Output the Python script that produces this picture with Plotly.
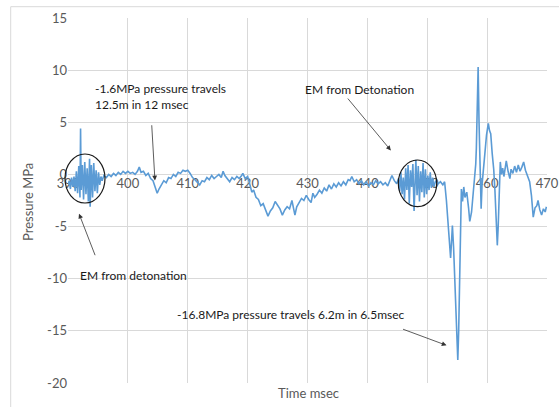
import plotly.graph_objects as go

time_ms = [
    390.0, 390.2, 390.4, 390.6, 390.8, 391.0, 391.2, 391.4, 391.6, 391.8,
    392.0, 392.1, 392.2, 392.4, 392.6, 392.8, 393.0, 393.2, 393.4, 393.6,
    393.7, 393.9, 394.1, 394.3, 394.5, 394.7, 394.9, 395.1, 395.3, 395.5,
    395.7, 396.0, 396.4, 396.8, 397.2, 397.6, 398.0, 398.4, 398.8, 399.2,
    399.6, 400.0, 400.4, 400.8, 401.2, 401.6, 401.9, 402.2, 402.6, 403.0,
    403.4, 403.8, 404.2, 404.6, 404.9, 405.2, 405.6, 406.0, 406.4, 406.8,
    407.2, 407.6, 408.0, 408.4, 408.8, 409.2, 409.6, 410.0, 410.4, 410.8,
    411.2, 411.6, 412.0, 412.4, 412.8, 413.2, 413.6, 414.0, 414.4, 414.8,
    415.2, 415.6, 415.9, 416.2, 416.6, 417.0, 417.4, 417.8, 418.2, 418.6,
    419.0, 419.2, 419.6, 420.0, 420.3, 420.7, 421.0, 421.4, 421.8, 422.2,
    422.6, 423.0, 423.4, 423.8, 424.2, 424.6, 425.0, 425.4, 425.8, 426.2,
    426.6, 427.0, 427.4, 427.9, 428.2, 428.6, 429.0, 429.4, 429.8, 430.2,
    430.6, 430.9, 431.2, 431.6, 432.0, 432.4, 432.8, 433.2, 433.6, 434.0,
    434.4, 434.8, 435.2, 435.6, 436.0, 436.4, 436.8, 437.1, 437.4, 437.8,
    438.2, 438.6, 439.0, 439.4, 439.8, 440.2, 440.6, 441.0, 441.4, 441.8,
    442.2, 442.6, 443.0, 443.4, 443.8, 444.1, 444.5, 444.9, 445.2, 445.4,
    445.6, 445.8, 446.0, 446.2, 446.4, 446.6, 446.8, 447.0, 447.2, 447.4,
    447.6, 447.8, 448.0, 448.1, 448.3, 448.5, 448.7, 448.9, 449.1, 449.3,
    449.5, 449.7, 449.9, 450.1, 450.3, 450.5, 450.7, 450.9, 451.1, 451.4,
    451.8, 452.2, 452.6, 452.9, 453.2, 453.4, 453.7, 453.9, 454.05, 454.2,
    454.4, 454.6, 454.8, 455.0, 455.1, 455.25, 455.4, 455.55, 455.7, 455.9,
    456.1, 456.3, 456.6, 456.9, 457.1, 457.4, 457.7, 457.9, 458.1, 458.2,
    458.35, 458.5, 458.65, 458.8, 459.0, 459.15, 459.3, 459.5, 459.7, 459.9,
    460.2, 460.4, 460.6, 460.85, 461.1, 461.3, 461.5, 461.7, 461.85, 462.0,
    462.2, 462.4, 462.6, 462.8, 463.0, 463.2, 463.5, 463.8, 464.0, 464.3,
    464.6, 464.9, 465.2, 465.5, 465.8, 466.1, 466.4, 466.7, 467.1, 467.4,
    467.7, 468.0, 468.3, 468.5, 468.8, 469.1, 469.4, 469.7, 469.9,
]

pressure_mpa = [
    -1.0, -0.6, -1.4, -0.3, -1.2, -0.2, -1.6, 0.3, -1.8, 0.8,
    -2.2, 4.4, -1.5, 0.9, -2.4, 1.2, -1.9, 0.6, -2.6, 1.5,
    -3.1, 0.9, -2.2, 1.1, -1.6, 0.4, -1.8, 0.2, -1.0, -0.2,
    -0.6, -0.1, -0.3, 0.0, -0.2, 0.1, -0.1, 0.2, 0.0, 0.3,
    0.1, 0.3, 0.1, 0.2, 0.0, 0.3, 0.7, 0.2, 0.3, -0.1,
    0.1, -0.4, -0.6, -1.2, -1.8, -1.4, -1.0, -0.6, -0.8, -0.3,
    -0.4, 0.0, -0.2, 0.2, 0.1, 0.4, 0.3, 0.4, 0.1, -0.3,
    -0.5, -0.8, -1.0, -0.6, -0.7, -0.3, -0.5, -0.1, -0.4, -0.2,
    0.0, -0.3, 0.3, -0.1, -0.4, -0.7, -0.3, -0.5, -0.2, -0.4,
    -0.1, 0.1, -0.4, -0.2, -0.8, -1.7, -1.5, -2.2, -2.4, -3.0,
    -2.8, -3.4, -4.0, -3.5, -3.2, -2.6, -3.0, -3.3, -3.9, -3.4,
    -3.1, -3.3, -2.5, -3.9, -3.1, -2.7, -2.3, -2.5, -2.0, -2.4,
    -2.7, -1.8, -2.2, -1.9, -1.5, -1.8, -1.3, -1.6, -1.0, -1.4,
    -0.9, -1.2, -0.8, -1.1, -0.7, -1.0, -0.5, -0.6, -0.2, -0.7,
    -0.5, -0.9, -0.6, -1.0, -0.7, -1.1, -0.8, -1.0, -0.6, -0.9,
    -0.7, -1.0, -0.8, -1.1, -0.5, -0.1, -0.6, -0.9, -0.4, -1.6,
    0.2, -1.9, -0.3, -2.4, 0.6, -1.5, 0.9, -2.8, 0.4, -1.2,
    1.0, -3.5, -0.2, 1.4, -2.0, 0.8, -2.6, 0.3, -1.7, 1.1,
    -2.2, 0.5, -1.9, -0.1, -1.5, 0.2, -1.3, -0.3, -1.2, -0.6,
    -0.9, -0.7, -1.0, -0.7, -2.5, -4.0, -6.5, -8.0, -6.5, -4.9,
    -7.0, -10.5, -13.5, -16.5, -17.8, -15.0, -10.3, -5.5, -1.4, -2.6,
    -1.2, -2.2, -1.7, -3.2, -4.5, -3.6, -1.8, -0.7, 1.0, 2.5,
    6.0, 10.3, 5.0, -0.5, -3.3, -1.0, 0.2, 1.0, 2.5, 3.8,
    4.9, 4.2, 3.9, 2.0, 0.5, -1.5, -4.0, -6.8, -5.0, -1.5,
    1.2, 0.0, 0.6, -0.2, 0.7, 1.3, 0.3, -0.4, 0.5, 0.1,
    0.8, 0.2, 0.9, 0.3, 0.7, 1.2, 0.4, 0.0, -0.7, -2.0,
    -4.1, -3.2, -3.0, -2.5, -3.4, -3.9, -3.3, -3.6, -3.1,
]

x_ticks = [390, 400, 410, 420, 430, 440, 450, 460, 470]
y_ticks = [-20, -15, -10, -5, 0, 5, 10, 15]

FONT = "Lato"
TEXT = "#1a1a1a"
GRAY = "#595959"
GRID = "#D9D9D9"
ARROW = "#333333"

fig = go.Figure()
fig.add_trace(go.Scatter(
    x=time_ms, y=pressure_mpa, mode="lines",
    line=dict(color="#5B9BD5", width=1.6),
    showlegend=False, hoverinfo="skip",
))

y_min, y_max = -20, 15
zero_pos = (0 - y_min) / (y_max - y_min)

fig.update_layout(
    width=559, height=407,
    margin=dict(l=68, r=12, t=18, b=24, autoexpand=False),
    paper_bgcolor="white", plot_bgcolor="white",
    font=dict(family=FONT, size=13, color=GRAY),
    xaxis=dict(
        range=[390, 470], tickvals=x_ticks, ticktext=[str(v) for v in x_ticks],
        showgrid=True, gridcolor=GRID, gridwidth=1,
        zeroline=False, showline=False, ticks="", automargin=False,
        anchor="free", position=zero_pos, layer="below traces",
        tickfont=dict(family=FONT, size=13, color=GRAY),
    ),
    yaxis=dict(
        range=[y_min, y_max], tickvals=y_ticks, ticktext=[str(v) for v in y_ticks],
        showgrid=True, gridcolor=GRID, gridwidth=1,
        zeroline=True, zerolinecolor=GRID, zerolinewidth=1,
        showline=False, ticks="", layer="below traces", automargin=False,
        tickfont=dict(family=FONT, size=13, color=GRAY),
    ),
)

PW, PH = 479.0, 365.0
def px_x(p):
    return (p - 68) / PW
def px_y(p):
    return (383 - p) / PH

# chart border
fig.add_shape(type="rect", xref="paper", yref="paper",
              x0=px_x(10.7), y0=px_y(420), x1=px_x(580), y1=px_y(6.7),
              line=dict(color=GRID, width=1), layer="below")

# ellipses
fig.add_shape(type="circle", xref="paper", yref="paper",
              x0=px_x(65), x1=px_x(105), y0=px_y(203), y1=px_y(154),
              line=dict(color="#1a1a1a", width=1.2))
fig.add_shape(type="circle", xref="paper", yref="paper",
              x0=px_x(398.3), x1=px_x(436.7), y0=px_y(206.7), y1=px_y(160),
              line=dict(color="#1a1a1a", width=1.2))

# axis titles
fig.add_annotation(text="Pressure MPa", xref="paper", yref="paper",
                   x=px_x(28), y=px_y(202), textangle=-90, showarrow=False,
                   xanchor="center", yanchor="middle",
                   font=dict(family=FONT, size=13, color=GRAY))
fig.add_annotation(text="Time msec", xref="paper", yref="paper",
                   x=px_x(308), y=px_y(392.7), showarrow=False,
                   xanchor="center", yanchor="middle",
                   font=dict(family=FONT, size=13, color=GRAY))

labels = [
    ("-1.6MPa pressure travels<br>12.5m in 12 msec", 394.17, 7.5),
    ("EM from Detonation", 429.18, 8.15),
    ("EM from detonation", 391.62, -9.68),
    ("-16.8MPa pressure travels 6.2m in 6.5msec", 407.86, -13.45),
]
for txt, lx, ly in labels:
    fig.add_annotation(text=txt, x=lx, y=ly, xref="x", yref="y",
                       showarrow=False, xanchor="left", yanchor="middle",
                       align="left", font=dict(family=FONT, size=12, color=TEXT))

arrows = [
    (404.52, -0.575, 403.97, 4.86),
    (443.92, 2.30, 436.53, 7.42),
    (391.84, -3.77, 394.62, -7.89),
    (453.22, -16.39, 445.71, -14.79),
]
for hx, hy, tx, ty in arrows:
    fig.add_annotation(text="", x=hx, y=hy, ax=tx, ay=ty,
                       xref="x", yref="y", axref="x", ayref="y",
                       showarrow=True, arrowhead=2, arrowsize=1.2,
                       arrowwidth=0.8, arrowcolor=ARROW)

fig.write_html(
    "out.html",
    config={"displayModeBar": False},
    post_script=(
        "document.documentElement.style.margin='0';"
        "document.documentElement.style.overflow='hidden';"
        "document.body.style.margin='0';"
        "document.body.style.overflow='hidden';"
    ),
)
